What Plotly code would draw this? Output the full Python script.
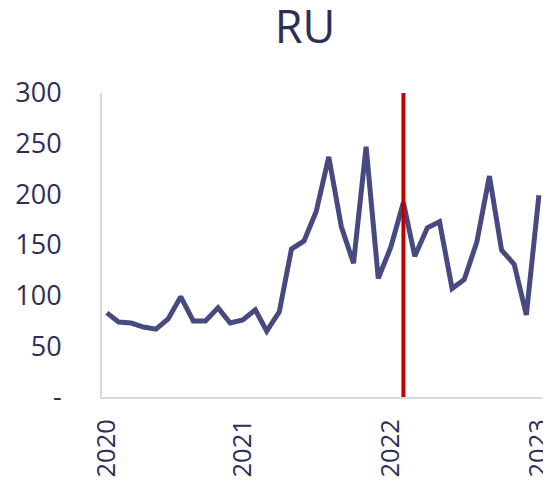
import plotly.graph_objects as go
import pandas as pd

# Data
months = pd.date_range("2020-02-01", periods=36, freq="MS")
values = [83, 74, 73, 69, 67, 77, 99, 75, 75, 88, 73, 76,
          86, 65, 84, 146, 154, 183, 237, 168, 132, 247, 117, 148,
          192, 139, 167, 173, 107, 116, 153, 218, 145, 131, 81, 199]
event_date = "2022-02-01"
x_tick_dates = ["2020-02-01", "2021-01-01", "2022-01-01", "2023-01-01"]
x_tick_labels = ["2020", "2021", "2022", "2023"]
y_tick_vals = [0, 50, 100, 150, 200, 250, 300]
y_tick_labels = ["-", "50", "100", "150", "200", "250", "300"]
title_text = "RU"

LINE = "#464A80"
TXT = "#2D2F5A"
AX = "#D9D9D9"

# the page body has an 8px margin, so the figure is drawn from (8, 8)
W, H = 543, 475

fig = go.Figure()
fig.add_trace(go.Scatter(
    x=months, y=values, mode="lines",
    line=dict(color=LINE, width=5), hoverinfo="skip", showlegend=False,
))

fig.add_shape(type="line", xref="x", yref="y",
              x0=event_date, x1=event_date, y0=0, y1=300,
              line=dict(color="#C00000", width=4))

fig.update_layout(
    width=W, height=H,
    margin=dict(l=94, r=6, t=85, b=86, autoexpand=False),
    paper_bgcolor="white", plot_bgcolor="white",
    font=dict(family="Open Sans", color=TXT),
    title=dict(text=title_text, font=dict(size=45, color=TXT, family="Open Sans"),
               x=297 / W, xref="container", xanchor="center",
               y=1 - 19 / H, yref="container", yanchor="middle"),
    showlegend=False,
)

fig.update_xaxes(
    type="date", automargin=False,
    range=["2020-01-20", "2023-01-16"],
    tickvals=x_tick_dates, ticktext=x_tick_labels,
    tickangle=-90, tickfont=dict(size=25.5, color=TXT),
    ticklabeloverflow="allow",
    showgrid=False, zeroline=False,
    showline=True, linecolor=AX, linewidth=2,
    ticks="outside", ticklen=10, tickcolor="rgba(0,0,0,0)",
)
fig.update_yaxes(
    range=[0, 300], automargin=False,
    tickvals=y_tick_vals, ticktext=y_tick_labels,
    tickfont=dict(size=27, color=TXT),
    showgrid=False, zeroline=False,
    showline=True, linecolor=AX, linewidth=2,
    ticks="outside", ticklen=33, tickcolor="rgba(0,0,0,0)",
)

fig.write_html("out.html")
